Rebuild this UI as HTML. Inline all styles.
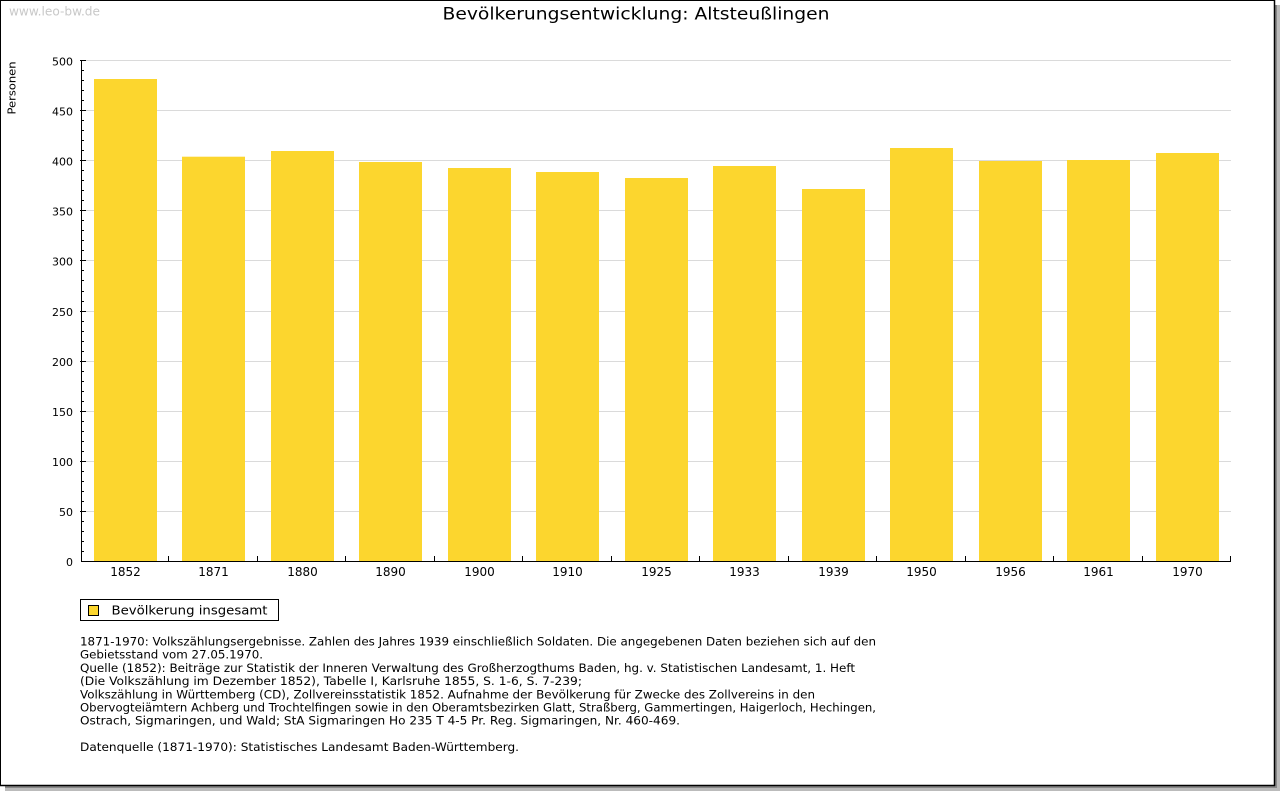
<!DOCTYPE html>
<html><head><meta charset="utf-8"><style>
html,body{margin:0;padding:0;background:#fff;}
svg{display:block;}
text{font-family:"DejaVu Sans","Liberation Sans",sans-serif;}
</style></head><body>
<svg width="1280" height="791" viewBox="0 0 1280 791" xmlns="http://www.w3.org/2000/svg">
<rect x="0" y="0" width="1280" height="791" fill="#fff"/>
<!-- shadow -->
<rect x="1275" y="5" width="5" height="786" fill="#bbb"/>
<rect x="5" y="786" width="1275" height="5" fill="#bbb"/>
<rect x="1275" y="5" width="2" height="783" fill="#888"/>
<rect x="5" y="786" width="1272" height="2" fill="#888"/>
<!-- frame -->
<rect x="0.5" y="0.5" width="1274" height="785" fill="#fff" stroke="#000" stroke-width="1"/>
<line x1="1274.5" y1="0" x2="1274.5" y2="786" stroke="#000" stroke-width="1.5"/>
<line x1="0" y1="785.5" x2="1275" y2="785.5" stroke="#000" stroke-width="1.5"/>

<text x="9" y="15.5" font-size="12" fill="#c8c8c8" textLength="91" lengthAdjust="spacingAndGlyphs">www.leo-bw.de</text>
<text x="442.5" y="19.5" font-size="17" fill="#000" textLength="387" lengthAdjust="spacingAndGlyphs">Bevölkerungsentwicklung: Altsteußlingen</text>

<text transform="translate(15.5,88) rotate(-90)" text-anchor="middle" font-size="11" fill="#000" textLength="53" lengthAdjust="spacingAndGlyphs">Personen</text>

<!-- gridlines -->
<g stroke="#dadada" stroke-width="1">
<line x1="81" y1="60.5" x2="1231" y2="60.5"/>
<line x1="81" y1="110.5" x2="1231" y2="110.5"/>
<line x1="81" y1="160.5" x2="1231" y2="160.5"/>
<line x1="81" y1="210.5" x2="1231" y2="210.5"/>
<line x1="81" y1="260.5" x2="1231" y2="260.5"/>
<line x1="81" y1="311.5" x2="1231" y2="311.5"/>
<line x1="81" y1="361.5" x2="1231" y2="361.5"/>
<line x1="81" y1="411.5" x2="1231" y2="411.5"/>
<line x1="81" y1="461.5" x2="1231" y2="461.5"/>
<line x1="81" y1="511.5" x2="1231" y2="511.5"/>
</g>

<!-- bars -->
<g fill="#fcd62e">
<rect x="94" y="79" width="63" height="482"/>
<rect x="182" y="156.7" width="63" height="404.3"/>
<rect x="271" y="151" width="63" height="410"/>
<rect x="359" y="162" width="63" height="399"/>
<rect x="448" y="168" width="63" height="393"/>
<rect x="536" y="172" width="63" height="389"/>
<rect x="625" y="178" width="63" height="383"/>
<rect x="713" y="166" width="63" height="395"/>
<rect x="802" y="189" width="63" height="372"/>
<rect x="890" y="148" width="63" height="413"/>
<rect x="979" y="161" width="63" height="400"/>
<rect x="1067" y="160" width="63" height="401"/>
<rect x="1156" y="153" width="63" height="408"/>
</g>

<!-- axes -->
<g stroke="#000" stroke-width="1">
<line x1="81.5" y1="60" x2="81.5" y2="562"/>
<line x1="81" y1="561.5" x2="1231" y2="561.5"/>
<line x1="80" y1="60.5" x2="86" y2="60.5"/>
<line x1="80" y1="110.5" x2="86" y2="110.5"/>
<line x1="80" y1="160.5" x2="86" y2="160.5"/>
<line x1="80" y1="210.5" x2="86" y2="210.5"/>
<line x1="80" y1="260.5" x2="86" y2="260.5"/>
<line x1="80" y1="311.5" x2="86" y2="311.5"/>
<line x1="80" y1="361.5" x2="86" y2="361.5"/>
<line x1="80" y1="411.5" x2="86" y2="411.5"/>
<line x1="80" y1="461.5" x2="86" y2="461.5"/>
<line x1="80" y1="511.5" x2="86" y2="511.5"/>
<path d="M81 551.5h3M81 541.5h3M81 531.5h3M81 521.5h3M81 501.5h3M81 491.5h3M81 481.5h3M81 471.5h3M81 451.5h3M81 441.5h3M81 431.5h3M81 421.5h3M81 401.5h3M81 391.5h3M81 381.5h3M81 371.5h3M81 351.5h3M81 341.5h3M81 331.5h3M81 321.5h3M81 301.5h3M81 291.5h3M81 280.5h3M81 270.5h3M81 250.5h3M81 240.5h3M81 230.5h3M81 220.5h3M81 200.5h3M81 190.5h3M81 180.5h3M81 170.5h3M81 150.5h3M81 140.5h3M81 130.5h3M81 120.5h3M81 100.5h3M81 90.5h3M81 80.5h3M81 70.5h3"/>
<path d="M168.5 556v5M257.5 556v5M345.5 556v5M434.5 556v5M522.5 556v5M611.5 556v5M699.5 556v5M788.5 556v5M876.5 556v5M965.5 556v5M1053.5 556v5M1142.5 556v5M1230.5 556v6"/>
</g>

<!-- y labels -->
<g font-size="11" fill="#000" text-anchor="end">
<text x="73" y="65.5">500</text>
<text x="73" y="115.5">450</text>
<text x="73" y="165.5">400</text>
<text x="73" y="215.5">350</text>
<text x="73" y="265.5">300</text>
<text x="73" y="316">250</text>
<text x="73" y="366">200</text>
<text x="73" y="416">150</text>
<text x="73" y="466">100</text>
<text x="73" y="516">50</text>
<text x="73" y="566">0</text>
</g>

<!-- x labels -->
<g font-size="12" fill="#000" text-anchor="middle">
<text x="125.5" y="576">1852</text>
<text x="213.5" y="576">1871</text>
<text x="302.5" y="576">1880</text>
<text x="390.5" y="576">1890</text>
<text x="479.5" y="576">1900</text>
<text x="567.5" y="576">1910</text>
<text x="656.5" y="576">1925</text>
<text x="744.5" y="576">1933</text>
<text x="833.5" y="576">1939</text>
<text x="921.5" y="576">1950</text>
<text x="1010.5" y="576">1956</text>
<text x="1098.5" y="576">1961</text>
<text x="1187.5" y="576">1970</text>
</g>

<!-- legend -->
<rect x="80.5" y="599.5" width="198" height="21" fill="#fff" stroke="#000" stroke-width="1"/>
<rect x="88.5" y="605.5" width="10" height="10" fill="#fcd62e" stroke="#000" stroke-width="1"/>
<text x="111.5" y="614.5" font-size="12.5" fill="#000" textLength="156" lengthAdjust="spacingAndGlyphs">Bevölkerung insgesamt</text>

<!-- footnote -->
<g font-size="11.5" fill="#000">
<text x="80" y="645.5" textLength="796" lengthAdjust="spacingAndGlyphs">1871-1970: Volkszählungsergebnisse. Zahlen des Jahres 1939 einschließlich Soldaten. Die angegebenen Daten beziehen sich auf den</text>
<text x="80" y="658.7" textLength="183" lengthAdjust="spacingAndGlyphs">Gebietsstand vom 27.05.1970.</text>
<text x="80" y="671.9" textLength="775" lengthAdjust="spacingAndGlyphs">Quelle (1852): Beiträge zur Statistik der Inneren Verwaltung des Großherzogthums Baden, hg. v. Statistischen Landesamt, 1. Heft</text>
<text x="80" y="685.1" textLength="502" lengthAdjust="spacingAndGlyphs">(Die Volkszählung im Dezember 1852), Tabelle I, Karlsruhe 1855, S. 1-6, S. 7-239;</text>
<text x="80" y="698.3" textLength="735" lengthAdjust="spacingAndGlyphs">Volkszählung in Württemberg (CD), Zollvereinsstatistik 1852. Aufnahme der Bevölkerung für Zwecke des Zollvereins in den</text>
<text x="80" y="711.5" textLength="796" lengthAdjust="spacingAndGlyphs">Obervogteiämtern Achberg und Trochtelfingen sowie in den Oberamtsbezirken Glatt, Straßberg, Gammertingen, Haigerloch, Hechingen,</text>
<text x="80" y="724.7" textLength="600" lengthAdjust="spacingAndGlyphs">Ostrach, Sigmaringen, und Wald; StA Sigmaringen Ho 235 T 4-5 Pr. Reg. Sigmaringen, Nr. 460-469.</text>
<text x="80" y="751.1" textLength="439" lengthAdjust="spacingAndGlyphs">Datenquelle (1871-1970): Statistisches Landesamt Baden-Württemberg.</text>
</g>
</svg>
</body></html>
